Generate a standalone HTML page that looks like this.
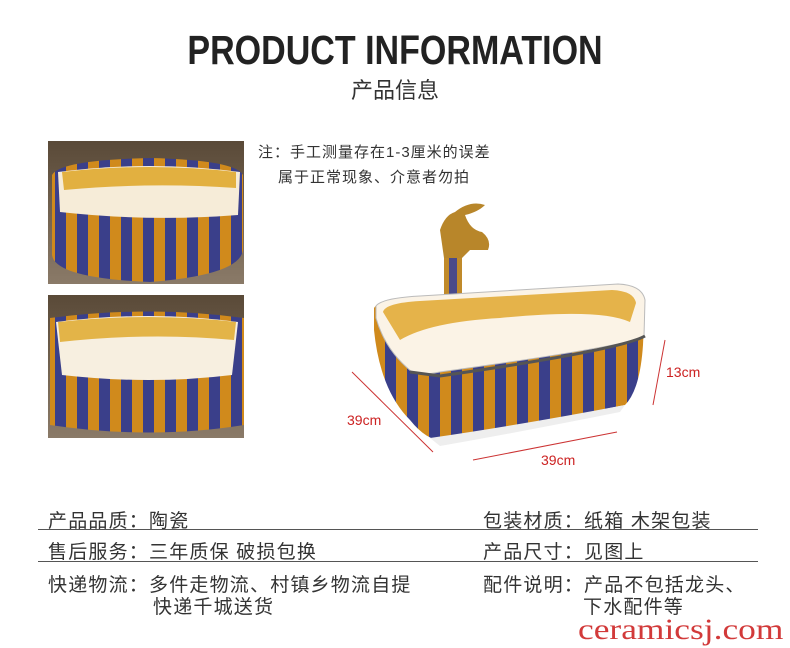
<!DOCTYPE html>
<html><head><meta charset="utf-8"><style>
body{margin:0;width:790px;height:648px;background:#fff;position:relative;overflow:hidden;font-family:"Liberation Sans","Noto Sans CJK SC",sans-serif;color:#333}
.a{position:absolute;white-space:nowrap}
.t{font-size:19px;letter-spacing:1.2px;color:#333}
.l{position:absolute;left:38px;width:720px;height:1px;background:#555}
</style></head><body>
<div class="a" style="left:0;width:790px;text-align:center;top:27px;font-size:41px;font-weight:900;color:#222;transform:scaleX(0.83)">PRODUCT INFORMATION</div>
<div class="a" style="left:0;width:790px;text-align:center;top:73px;font-size:22px;color:#333">产品信息</div>
<div class="a" style="left:258px;top:141px;font-size:15px;letter-spacing:1px">注：手工测量存在1-3厘米的误差</div>
<div class="a" style="left:278px;top:166px;font-size:15px;letter-spacing:1px">属于正常现象、介意者勿拍</div>

<svg class="a" style="left:0;top:0" width="790" height="648">
<defs>
<linearGradient id="bg" x1="0" y1="0" x2="0" y2="1"><stop offset="0" stop-color="#5a4a38"/><stop offset="1" stop-color="#8a7a68"/></linearGradient>
<pattern id="band" width="22" height="20" patternUnits="userSpaceOnUse"><rect width="11" height="20" fill="#d08a1c"/><rect x="11" width="11" height="20" fill="#3a3f8a"/></pattern>
</defs>
<rect x="48" y="141" width="196" height="143" fill="url(#bg)"/>
<path d="M52 175 Q60 160 150 158 Q235 160 243 175 L243 250 Q240 275 150 282 Q55 278 52 255Z" fill="url(#band)"/>
<path d="M58 172 Q150 160 240 172 L238 215 Q150 222 60 212Z" fill="#f6ecd8"/>
<path d="M62 172 Q150 162 236 172 L236 188 Q150 182 64 190Z" fill="#e2b040"/>
<rect x="48" y="295" width="196" height="143" fill="url(#bg)"/>
<path d="M50 318 Q150 305 244 318 L244 425 Q150 440 50 425Z" fill="url(#band)"/>
<path d="M56 322 Q150 310 238 322 L232 375 Q150 385 62 375Z" fill="#f7efe0"/>
<path d="M58 322 Q150 312 236 322 L234 340 Q150 332 60 342Z" fill="#e3b448"/>
<rect x="444" y="255" width="18" height="48" fill="#c08a2a"/>
<rect x="449" y="258" width="8" height="40" fill="#4a4a8a"/>
<path d="M440 230 Q445 215 455 212 Q470 200 485 205 Q478 212 465 215 Q470 230 482 232 Q492 240 488 250 L470 250 L462 258 L444 258Z" fill="#b8862a"/>
<path d="M374 308 Q380 298 420 296 L620 285 Q640 286 645 300 L643 345 Q640 390 625 405 L450 440 Q430 445 410 420 Q380 390 374 330Z" fill="url(#band)"/>
<path d="M376 306 Q382 298 420 296 L618 284 Q642 285 645 300 L644 336 Q635 345 440 372 Q420 376 412 372 Q385 350 376 318Z" fill="#fbf3e6" stroke="#bbb" stroke-width="1"/>
<path d="M383 312 Q385 303 420 301 L612 290 Q634 291 636 303 L630 322 Q600 308 500 318 Q430 322 400 340Z" fill="#e5b34a"/>
<path d="M410 372 L440 376 Q620 350 645 336" fill="none" stroke="#555" stroke-width="3"/>
<path d="M430 438 Q520 425 625 405 L620 412 Q520 432 440 446Z" fill="#eee"/>
<line x1="352" y1="372" x2="433" y2="452" stroke="#c33" stroke-width="1"/>
<line x1="473" y1="460" x2="617" y2="432" stroke="#c33" stroke-width="1"/>
<line x1="653" y1="405" x2="665" y2="340" stroke="#c33" stroke-width="1"/>
</svg>
<div class="a" style="left:347px;top:412px;font-size:14px;color:#c22">39cm</div>
<div class="a" style="left:541px;top:452px;font-size:14px;color:#c22">39cm</div>
<div class="a" style="left:666px;top:364px;font-size:14px;color:#c22">13cm</div>

<div class="a t" style="left:48px;top:506px">产品品质：陶瓷</div>
<div class="a t" style="left:483px;top:506px">包装材质：纸箱 木架包装</div>
<div class="l" style="top:529px"></div>
<div class="a t" style="left:48px;top:537px">售后服务：三年质保 破损包换</div>
<div class="a t" style="left:483px;top:537px">产品尺寸：见图上</div>
<div class="l" style="top:561px"></div>
<div class="a t" style="left:48px;top:570px">快递物流：多件走物流、村镇乡物流自提</div>
<div class="a t" style="left:153px;top:592px">快递千城送货</div>
<div class="a t" style="left:483px;top:570px">配件说明：产品不包括龙头、</div>
<div class="a t" style="left:583px;top:592px">下水配件等</div>
<div class="a" style="left:578px;top:613px;font-size:30px;font-family:'Liberation Serif',serif;color:#d23a3a;transform:scaleX(1.18);transform-origin:left top">ceramicsj.com</div>
</body></html>
